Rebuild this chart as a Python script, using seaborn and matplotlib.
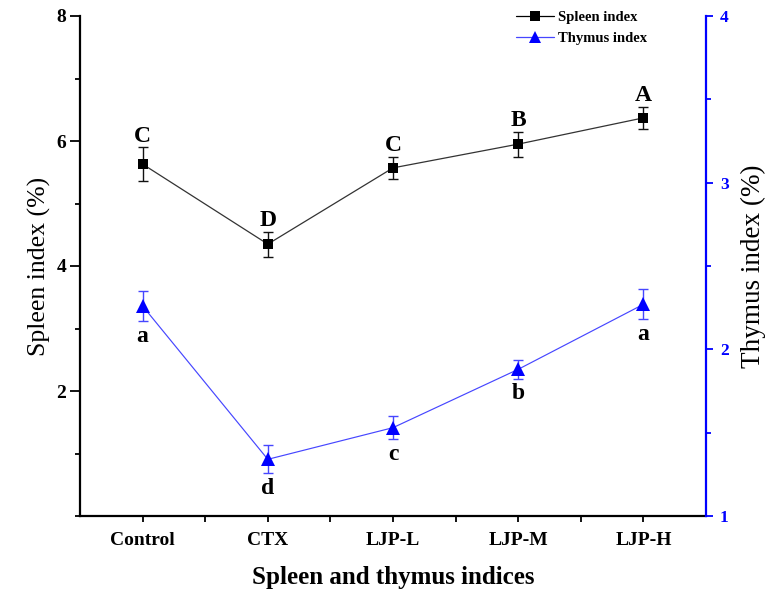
import numpy as np
import pandas as pd
import matplotlib
matplotlib.use("Agg")
import matplotlib.pyplot as plt
from matplotlib.ticker import MultipleLocator, FixedLocator
from matplotlib.lines import Line2D
import seaborn as sns

categories = ["Control", "CTX", "LJP-L", "LJP-M", "LJP-H"]
spleen = [5.63, 4.35, 5.57, 5.95, 6.37]
spleen_err = [0.27, 0.20, 0.18, 0.20, 0.18]
thymus = [2.26, 1.34, 1.53, 1.88, 2.27]
thymus_err = [0.09, 0.085, 0.07, 0.055, 0.09]
spleen_letters = ["C", "D", "C", "B", "A"]
thymus_letters = ["a", "d", "c", "b", "a"]

sns.set_theme(style="ticks")
plt.rcParams["font.family"] = ["Liberation Serif", "DejaVu Serif"]
plt.rcParams.update({
    "text.color": "black", "axes.labelcolor": "black", "axes.edgecolor": "black",
    "xtick.color": "black", "ytick.color": "black",
})

BLUE = "#0000FF"
LINE_BLUE = "#4646ff"
fig = plt.figure(figsize=(7.67, 6.03), dpi=100)
ax = fig.add_axes([80 / 767, 1 - 516 / 603, 626 / 767, 500 / 603])
ax2 = ax.twinx()

pos = np.arange(len(categories))
df = pd.DataFrame({"pos": pos, "spleen": spleen, "thymus": thymus})

ax.errorbar(pos, spleen, yerr=spleen_err, fmt="none", ecolor="#111111",
            elinewidth=1.0, capsize=3.6, capthick=1.0, zorder=1)
sns.lineplot(data=df, x="pos", y="spleen", ax=ax, color="#333333", lw=0.9,
             marker="s", markersize=7.5, markeredgewidth=0, markerfacecolor="black",
             legend=False, zorder=3)
ax2.errorbar(pos, thymus, yerr=thymus_err, fmt="none", ecolor=LINE_BLUE,
             elinewidth=1.0, capsize=3.6, capthick=1.0, zorder=1)
sns.lineplot(data=df, x="pos", y="thymus", ax=ax2, color=LINE_BLUE, lw=0.85,
             marker="^", markersize=9.5, markeredgewidth=0, markerfacecolor=BLUE,
             legend=False, zorder=3)

for x, y, e, t in zip(pos, spleen, spleen_err, spleen_letters):
    ax.annotate(t, (x, y + e), xytext=(0, 4), textcoords="offset points",
                ha="center", va="baseline", fontsize=17, fontweight="bold")
for x, y, e, t in zip(pos, thymus, thymus_err, thymus_letters):
    ax2.annotate(t, (x, y - e), xytext=(0, -15), textcoords="offset points",
                 ha="center", va="baseline", fontsize=17, fontweight="bold")

ax.set_xlim(-0.5, len(categories) - 0.5)
ax.set_ylim(0, 8)
ax2.set_ylim(1, 4)
ax.set_xticks(pos)
ax.set_xticklabels(categories, fontsize=14, fontweight="bold")
ax.xaxis.set_minor_locator(FixedLocator(pos[:-1] + 0.5))
ax.set_yticks([2, 4, 6, 8])
ax.set_yticklabels(["2", "4", "6", "8"], fontsize=14, fontweight="bold")
ax.yaxis.set_minor_locator(MultipleLocator(1))
ax2.set_yticks([1, 2, 3, 4])
ax2.set_yticklabels(["1", "2", "3", "4"], fontsize=12.5, fontweight="bold", color=BLUE)
ax2.yaxis.set_minor_locator(MultipleLocator(0.5))

ax.set_xlabel("Spleen and thymus indices", fontsize=18, fontweight="bold", labelpad=12)
ax.set_ylabel("Spleen index (%)", fontsize=18.5, labelpad=4)
ax2.set_ylabel("Thymus index (%)", fontsize=19.5, labelpad=9)

for a in (ax, ax2):
    a.spines["top"].set_visible(False)
ax.spines["right"].set_visible(False)
ax2.spines["left"].set_visible(False)
ax2.spines["bottom"].set_visible(False)
ax.spines["left"].set_linewidth(1.6)
ax.spines["bottom"].set_linewidth(1.6)
ax2.spines["right"].set_linewidth(1.6)
ax2.spines["right"].set_color(BLUE)

ax.tick_params(axis="x", which="major", length=4.5, width=1.3, direction="out", pad=7)
ax.tick_params(axis="x", which="minor", length=4, width=1.3, direction="out")
ax.tick_params(axis="y", which="major", length=7, width=1.3, direction="out", pad=3)
ax.tick_params(axis="y", which="minor", length=3.5, width=1.3, direction="out")
ax2.tick_params(axis="y", which="major", length=5, width=1.3, direction="out",
                color=BLUE, pad=5)
ax2.tick_params(axis="y", which="minor", length=3.5, width=1.3, direction="out",
                color=BLUE)
ax.set_facecolor("white")

handles = [
    Line2D([], [], color="black", lw=0.9, marker="s", markersize=7, markeredgewidth=0),
    Line2D([], [], color=LINE_BLUE, lw=0.9, marker="^", markersize=8.5,
           markeredgewidth=0, markerfacecolor=BLUE),
]
leg = fig.legend(handles, ["Spleen index", "Thymus index"], loc="upper left",
                 bbox_to_anchor=(516 / 767, 1 - 11 / 603), frameon=False,
                 prop={"family": "Liberation Serif", "weight": "bold", "size": 10.5},
                 handlelength=2.6, handletextpad=0.25, borderpad=0,
                 labelspacing=0.55, borderaxespad=0)

fig.savefig("out.png", dpi=100, facecolor="white")
